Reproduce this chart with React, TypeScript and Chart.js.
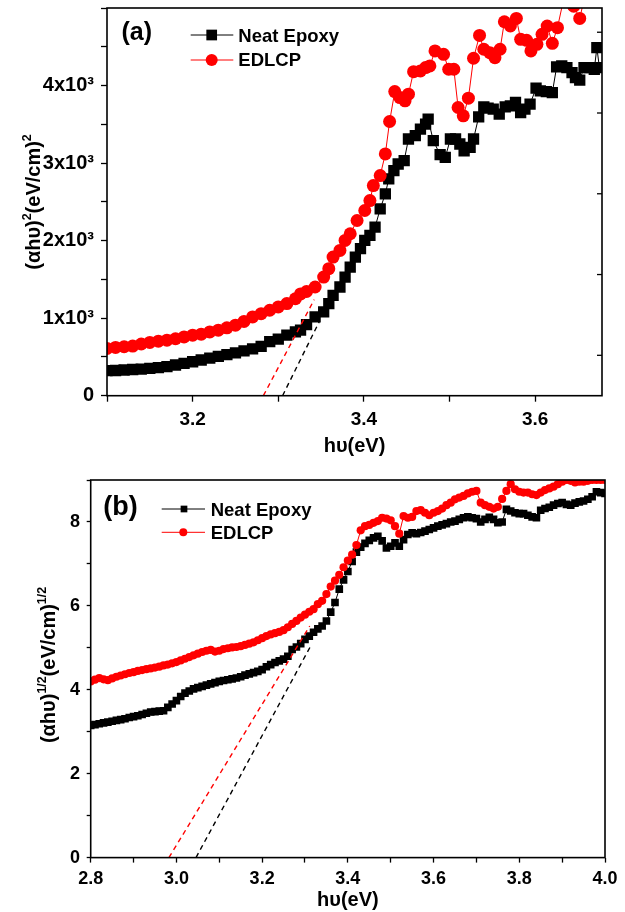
import React, { useEffect, useRef } from 'react';
import { Chart, registerables } from 'chart.js';
Chart.register(...registerables);

const FONT = '"Liberation Sans", Arial, Helvetica, sans-serif';

// ---------- Panel (a): (αhυ)^2 vs hυ ----------
const aNeatX = [3.10, 3.11, 3.12, 3.13, 3.14, 3.15, 3.16, 3.17, 3.18, 3.19, 3.20, 3.21, 3.22, 3.23, 3.24, 3.25, 3.26, 3.27, 3.28, 3.29, 3.30, 3.31, 3.32,
  3.326, 3.333, 3.343, 3.353, 3.359, 3.364, 3.372, 3.378, 3.384, 3.390,
  3.396, 3.401, 3.407, 3.413, 3.419, 3.425, 3.429, 3.435, 3.440, 3.447,
  3.452, 3.460, 3.466, 3.472, 3.475, 3.481, 3.489, 3.495, 3.501, 3.507,
  3.512, 3.517, 3.524, 3.528, 3.534, 3.540, 3.545, 3.551, 3.558, 3.565,
  3.571, 3.577, 3.583, 3.588, 3.594, 3.601, 3.606, 3.613, 3.620, 3.625,
  3.631, 3.637, 3.643, 3.647, 3.652, 3.657, 3.663, 3.669, 3.672, 3.675];
const aNeatY = [310, 312, 318, 324, 330, 338, 347, 360, 380, 400, 420, 442, 465, 487, 508, 530, 555, 580, 610, 670, 700, 750, 790,
  811, 880, 975, 1037, 1141, 1243, 1346, 1469, 1593, 1716,
  1820, 1922, 1984, 2086, 2313, 2499, 2684, 2786, 2869, 2910,
  3178, 3219, 3301, 3363, 3425, 3157, 2984, 2951, 3178, 3178,
  3116, 3033, 3074, 3178, 3453, 3577, 3560, 3548, 3486, 3577,
  3589, 3630, 3506, 3548, 3610, 3807, 3774, 3765, 3753, 4070,
  4083, 4062, 4000, 3938, 3906, 4062, 4062, 4042, 4309, 4062];

const aEdlcpX = [3.10, 3.11, 3.12, 3.13, 3.14, 3.15, 3.16, 3.17, 3.18, 3.19, 3.20, 3.21, 3.22, 3.23, 3.24, 3.25, 3.26, 3.27, 3.28, 3.29, 3.30, 3.31, 3.32,
  3.326, 3.333, 3.343, 3.353, 3.359, 3.364, 3.372, 3.378, 3.384, 3.392,
  3.401, 3.407, 3.411, 3.419, 3.425, 3.430, 3.436, 3.442, 3.448, 3.452,
  3.458, 3.466, 3.472, 3.477, 3.483, 3.493, 3.499, 3.505, 3.510, 3.516,
  3.522, 3.528, 3.535, 3.540, 3.547, 3.553, 3.559, 3.564, 3.571, 3.578,
  3.583, 3.590, 3.595, 3.602, 3.608, 3.614, 3.620, 3.626, 3.633, 3.639,
  3.645, 3.652, 3.658, 3.664, 3.671, 3.677];
const aEdlcpY = [585, 598, 606, 614, 640, 660, 675, 688, 705, 728, 749, 762, 790, 811, 840, 873, 920, 975, 1015, 1058, 1099, 1140, 1200,
  1260, 1290, 1346, 1469, 1573, 1716, 1799, 1922, 2005, 2169,
  2293, 2416, 2601, 2725, 2993, 3395, 3765, 3691, 3651, 3733,
  4012, 4021, 4062, 4083, 4268, 4227, 4042, 4042, 3568, 3465,
  3684, 4178, 4461, 4289, 4247, 4185, 4289, 4630, 4577, 4671,
  4412, 4400, 4268, 4350, 4474, 4577, 4363, 4556, 4900, 4950,
  4823, 4671, 4950, 5000, 5050, 5100];

const aNeatFitX = [3.305, 3.348];
const aNeatFitY = [0, 920];
const aEdlcpFitX = [3.2826, 3.342];
const aEdlcpFitY = [0, 1190];

// ---------- Panel (b): (αhυ)^1/2 vs hυ ----------
const bX = [2.80, 2.81, 2.82, 2.83, 2.84, 2.85, 2.86, 2.87, 2.88, 2.89,
  2.90, 2.91, 2.92, 2.93, 2.94, 2.95, 2.96, 2.97, 2.98, 2.99,
  3.00, 3.01, 3.02, 3.03, 3.04, 3.05, 3.06, 3.07, 3.08, 3.09,
  3.10, 3.11, 3.12, 3.13, 3.14, 3.15, 3.16, 3.17, 3.18, 3.19,
  3.20, 3.21, 3.22, 3.23, 3.24, 3.25, 3.26, 3.27, 3.28, 3.29,
  3.30, 3.31, 3.32, 3.33, 3.34, 3.35, 3.36, 3.37, 3.38, 3.39,
  3.40, 3.41, 3.42, 3.43, 3.44, 3.45, 3.46, 3.47, 3.48, 3.49,
  3.50, 3.51, 3.52, 3.53, 3.54, 3.55, 3.56, 3.57, 3.58, 3.59,
  3.60, 3.61, 3.62, 3.63, 3.64, 3.65, 3.66, 3.67, 3.68, 3.69,
  3.70, 3.71, 3.72, 3.73, 3.74, 3.75, 3.76, 3.77, 3.78, 3.79,
  3.80, 3.81, 3.82, 3.83, 3.84, 3.85, 3.86, 3.87, 3.88, 3.89,
  3.90, 3.91, 3.92, 3.93, 3.94, 3.95, 3.96, 3.97, 3.98, 3.99,
  4.00];
const bNeatY = [3.15, 3.17, 3.19, 3.21, 3.23, 3.25, 3.27, 3.29, 3.31, 3.34,
  3.36, 3.38, 3.41, 3.44, 3.47, 3.48, 3.49, 3.50, 3.58, 3.66,
  3.74, 3.84, 3.92, 3.97, 4.02, 4.05, 4.08, 4.11, 4.14, 4.17,
  4.20, 4.22, 4.24, 4.26, 4.28, 4.31, 4.35, 4.38, 4.41, 4.44,
  4.48, 4.55, 4.60, 4.65, 4.69, 4.73, 4.80, 4.96, 5.02, 5.10,
  5.20, 5.28, 5.37, 5.45, 5.52, 5.64, 5.85, 6.08, 6.40, 6.62,
  6.82, 7.06, 7.28, 7.40, 7.49, 7.56, 7.62, 7.66, 7.55, 7.38,
  7.42, 7.50, 7.42, 7.58, 7.70, 7.74, 7.72, 7.75, 7.78, 7.82,
  7.86, 7.90, 7.93, 7.96, 8.00, 8.02, 8.06, 8.10, 8.12, 8.10,
  8.08, 8.00, 8.06, 8.11, 8.06, 7.98, 8.00, 8.30, 8.26, 8.22,
  8.20, 8.20, 8.16, 8.12, 8.10, 8.28, 8.32, 8.35, 8.40, 8.44,
  8.46, 8.42, 8.40, 8.45, 8.48, 8.50, 8.54, 8.60, 8.72, 8.70,
  8.68];
const bEdlcpY = [4.20, 4.24, 4.28, 4.25, 4.23, 4.27, 4.31, 4.34, 4.37, 4.40,
  4.42, 4.45, 4.47, 4.49, 4.51, 4.53, 4.55, 4.58, 4.60, 4.63,
  4.66, 4.70, 4.74, 4.78, 4.82, 4.86, 4.90, 4.93, 4.95, 4.91,
  4.93, 4.97, 4.99, 5.01, 5.02, 5.04, 5.07, 5.10, 5.13, 5.18,
  5.23, 5.28, 5.32, 5.35, 5.38, 5.42, 5.49, 5.57, 5.64, 5.72,
  5.79, 5.86, 5.92, 6.04, 6.12, 6.28, 6.46, 6.60, 6.74, 6.92,
  7.08, 7.22, 7.45, 7.80, 7.90, 7.93, 7.98, 8.02, 8.10, 8.08,
  8.04, 7.90, 7.72, 8.14, 8.10, 8.12, 8.26, 8.28, 8.22, 8.16,
  8.22, 8.26, 8.32, 8.40, 8.46, 8.54, 8.58, 8.62, 8.68, 8.72,
  8.74, 8.46, 8.40, 8.36, 8.32, 8.36, 8.55, 8.74, 8.90, 8.78,
  8.72, 8.70, 8.70, 8.66, 8.64, 8.70, 8.76, 8.80, 8.84, 8.90,
  8.96, 9.00, 8.98, 8.94, 8.96, 8.96, 8.98, 9.00, 9.00, 9.00,
  9.00];

const bNeatFitX = [3.0457, 3.312];
const bNeatFitY = [0, 5.02];
const bEdlcpFitX = [2.9825, 3.311];
const bEdlcpFitY = [0, 5.52];

const SERIES_NAMES = ['Neat Epoxy', 'EDLCP'];
const A_Y_TICK_LABELS = ['0', '1x10³', '2x10³', '3x10³', '4x10³'];

// ---------- helpers ----------
const pts = (xs: number[], ys: number[]) => xs.map((x, i) => ({ x, y: ys[i] }));

type Part = { t: string; sup?: boolean };

function drawVerticalRich(ctx: CanvasRenderingContext2D, parts: Part[], cx: number, cy: number, size: number) {
  ctx.save();
  ctx.translate(cx, cy);
  ctx.rotate(-Math.PI / 2);
  const supSize = size * 0.62;
  let total = 0;
  const widths = parts.map((p) => {
    ctx.font = `bold ${p.sup ? supSize : size}px ${FONT}`;
    const w = ctx.measureText(p.t).width;
    total += w;
    return w;
  });
  let x = -total / 2;
  ctx.textAlign = 'left';
  ctx.textBaseline = 'alphabetic';
  ctx.fillStyle = '#000';
  const base = size * 0.36;
  parts.forEach((p, i) => {
    ctx.font = `bold ${p.sup ? supSize : size}px ${FONT}`;
    ctx.fillText(p.t, x, p.sup ? base - size * 0.46 : base);
    x += widths[i];
  });
  ctx.restore();
}

interface LegendItem {
  text: string; color: string; style: 'rect' | 'circle';
  x1: number; x2: number; y: number; mx: number; msize: number; tx: number; baseline: number;
}

interface PanelCfg {
  width: number; height: number;
  area: { left: number; right: number; top: number; bottom: number };
  x: { min: number; max: number; step: number; font: number; tl: number; pad: number; title: string; titleSize: number; titleBottom: number };
  y: { min: number; max: number; step: number; font: number; tl: number; pad: number; label: (v: number) => string };
  yTitle: { parts: Part[]; cx: number; cy: number; size: number };
  panelLabel: { text: string; x: number; baseline: number; size: number };
  legend: LegendItem[]; legendFont: number;
  rightTicks: number[];
  datasets: any[];
}

function buildChart(canvas: HTMLCanvasElement, cfg: PanelCfg) {
  const decor = {
    id: 'decor',
    afterDraw(chart: any) {
      const { ctx, chartArea: ca } = chart;
      ctx.save();
      ctx.strokeStyle = '#000';
      ctx.lineWidth = 1.6;
      ctx.strokeRect(ca.left, ca.top, ca.right - ca.left, ca.bottom - ca.top);
      const ys = chart.scales.y;
      ctx.lineWidth = 1.3;
      cfg.rightTicks.forEach((v) => {
        const py = ys.getPixelForValue(v);
        ctx.beginPath();
        ctx.moveTo(ca.right, py);
        ctx.lineTo(ca.right - 5, py);
        ctx.stroke();
      });
      ctx.fillStyle = '#000';
      ctx.textAlign = 'left';
      ctx.textBaseline = 'alphabetic';
      ctx.font = `bold ${cfg.panelLabel.size}px ${FONT}`;
      ctx.fillText(cfg.panelLabel.text, cfg.panelLabel.x, cfg.panelLabel.baseline);
      cfg.legend.forEach((it) => {
        ctx.strokeStyle = it.color;
        ctx.fillStyle = it.color;
        ctx.lineWidth = 1;
        ctx.beginPath();
        ctx.moveTo(it.x1, it.y);
        ctx.lineTo(it.x2, it.y);
        ctx.stroke();
        if (it.style === 'rect') {
          ctx.fillRect(it.mx - it.msize / 2, it.y - it.msize / 2, it.msize, it.msize);
        } else {
          ctx.beginPath();
          ctx.arc(it.mx, it.y, it.msize / 2, 0, Math.PI * 2);
          ctx.fill();
        }
        ctx.fillStyle = '#000';
        ctx.font = `bold ${cfg.legendFont}px ${FONT}`;
        ctx.fillText(it.text, it.tx, it.baseline);
      });
      drawVerticalRich(ctx, cfg.yTitle.parts, cfg.yTitle.cx, cfg.yTitle.cy, cfg.yTitle.size);
      ctx.restore();
    },
  };

  const zeroPad = (s: any) => { s.paddingTop = 0; s.paddingBottom = 0; s.paddingLeft = 0; s.paddingRight = 0; };

  return new Chart(canvas, {
    type: 'scatter',
    data: { datasets: cfg.datasets },
    options: {
      responsive: false,
      devicePixelRatio: 1,
      animation: false,
      events: [],
      layout: {
        padding: { left: 0, right: cfg.width - cfg.area.right, top: cfg.area.top, bottom: 0 },
      },
      plugins: { legend: { display: false }, tooltip: { enabled: false } },
      scales: {
        x: {
          type: 'linear',
          min: cfg.x.min,
          max: cfg.x.max,
          afterFit: (s: any) => { s.height = cfg.height - cfg.area.bottom; zeroPad(s); },
          border: { display: false },
          grid: { display: true, drawOnChartArea: false, drawTicks: true, tickLength: cfg.x.tl, tickColor: '#000', tickWidth: 1.3 },
          ticks: {
            stepSize: cfg.x.step,
            includeBounds: false,
            autoSkip: false,
            maxRotation: 0,
            padding: cfg.x.pad,
            color: '#000',
            font: { family: FONT, size: cfg.x.font, weight: 'bold' },
            callback: (v: any) => (Math.round(Number(v) * 10) % 2 === 0 ? Number(v).toFixed(1) : ''),
          },
          title: {
            display: true,
            text: cfg.x.title,
            color: '#000',
            font: { family: FONT, size: cfg.x.titleSize, weight: 'bold', lineHeight: 1 },
            padding: { top: 0, bottom: cfg.x.titleBottom },
          },
        },
        y: {
          type: 'linear',
          min: cfg.y.min,
          max: cfg.y.max,
          afterFit: (s: any) => { s.width = cfg.area.left; zeroPad(s); },
          border: { display: false },
          grid: { display: true, drawOnChartArea: false, drawTicks: true, tickLength: cfg.y.tl, tickColor: '#000', tickWidth: 1.3 },
          ticks: {
            stepSize: cfg.y.step,
            includeBounds: false,
            autoSkip: false,
            padding: cfg.y.pad,
            color: '#000',
            font: { family: FONT, size: cfg.y.font, weight: 'bold' },
            callback: (v: any) => cfg.y.label(Number(v)),
          },
        },
      },
    } as any,
    plugins: [decor],
  });
}

function seriesDatasets(neatX: number[], neatY: number[], edX: number[], edY: number[],
  nfX: number[], nfY: number[], efX: number[], efY: number[], sqR: number, ciR: number) {
  return [
    { label: 'fit-neat', data: pts(nfX, nfY), showLine: true, borderColor: '#000', borderWidth: 1.4, borderDash: [5, 4], pointRadius: 0, fill: false },
    { label: 'fit-edlcp', data: pts(efX, efY), showLine: true, borderColor: '#ff0000', borderWidth: 1.4, borderDash: [5, 4], pointRadius: 0, fill: false },
    { label: SERIES_NAMES[1], data: pts(edX, edY), showLine: true, borderColor: '#ff0000', borderWidth: 1, pointStyle: 'circle', pointRadius: ciR, pointBackgroundColor: '#ff0000', pointBorderColor: '#ff0000', pointBorderWidth: 0 },
    { label: SERIES_NAMES[0], data: pts(neatX, neatY), showLine: true, borderColor: '#000', borderWidth: 1, pointStyle: 'rect', pointRadius: sqR, pointBackgroundColor: '#000', pointBorderColor: '#000', pointBorderWidth: 0 },
  ];
}

const cfgA: PanelCfg = {
  width: 625, height: 460,
  area: { left: 107, right: 602, top: 7.3, bottom: 395.7 },
  x: { min: 3.1, max: 3.678, step: 0.1, font: 19, tl: 6, pad: 7, title: 'hυ(eV)', titleSize: 20, titleBottom: 4 },
  y: {
    min: 0, max: 4800, step: 500, font: 20, tl: 6, pad: 7,
    label: (v) => {
      const k = Math.round(v / 500);
      return k % 2 === 0 ? (A_Y_TICK_LABELS[k / 2] ?? '') : '';
    },
  },
  yTitle: { parts: [{ t: '(αhυ)' }, { t: '2', sup: true }, { t: '(eV/cm)' }, { t: '2', sup: true }], cx: 33, cy: 202, size: 20 },
  panelLabel: { text: '(a)', x: 121.5, baseline: 40, size: 25 },
  legend: [
    { text: SERIES_NAMES[0], color: '#000', style: 'rect', x1: 190.7, x2: 233.3, y: 35, mx: 211.7, msize: 10.7, tx: 238.3, baseline: 41.7 },
    { text: SERIES_NAMES[1], color: '#ff0000', style: 'circle', x1: 190.7, x2: 233.3, y: 60, mx: 211.7, msize: 12, tx: 238.3, baseline: 66 },
  ],
  legendFont: 18.5,
  rightTicks: [500, 1500, 2500, 3500, 4500],
  datasets: seriesDatasets(aNeatX, aNeatY, aEdlcpX, aEdlcpY, aNeatFitX, aNeatFitY, aEdlcpFitX, aEdlcpFitY, 8, 6.5),
};

const cfgB: PanelCfg = {
  width: 625, height: 452,
  area: { left: 90.7, right: 605, top: 20, bottom: 397.6 },
  x: { min: 2.8, max: 4.0, step: 0.1, font: 18, tl: 5, pad: 5.4, title: 'hυ(eV)', titleSize: 20, titleBottom: 1.2 },
  y: { min: 0, max: 9, step: 1, font: 18, tl: 4, pad: 6.7, label: (v) => (Math.round(v) % 2 === 0 ? String(Math.round(v)) : '') },
  yTitle: { parts: [{ t: '(αhυ)' }, { t: '1/2', sup: true }, { t: '(eV/cm)' }, { t: '1/2', sup: true }], cx: 48, cy: 205, size: 20 },
  panelLabel: { text: '(b)', x: 103.3, baseline: 54.8, size: 27 },
  legend: [
    { text: SERIES_NAMES[0], color: '#000', style: 'rect', x1: 161.7, x2: 205, y: 49, mx: 184, msize: 6.7, tx: 210.7, baseline: 55.7 },
    { text: SERIES_NAMES[1], color: '#ff0000', style: 'circle', x1: 161.7, x2: 205, y: 72.3, mx: 183.3, msize: 8, tx: 210.7, baseline: 79.3 },
  ],
  legendFont: 18.5,
  rightTicks: [],
  datasets: seriesDatasets(bX, bNeatY, bX, bEdlcpY, bNeatFitX, bNeatFitY, bEdlcpFitX, bEdlcpFitY, 5.4, 4.1),
};

function Panel({ cfg, top }: { cfg: PanelCfg; top: number }) {
  const ref = useRef<HTMLCanvasElement | null>(null);
  useEffect(() => {
    if (!ref.current) return;
    const chart = buildChart(ref.current, cfg);
    return () => chart.destroy();
  }, [cfg]);
  return (
    <div style={{ position: 'absolute', left: 0, top, width: cfg.width, height: cfg.height }}>
      <canvas ref={ref} width={cfg.width} height={cfg.height} style={{ width: cfg.width, height: cfg.height, display: 'block' }} />
    </div>
  );
}

export default function App() {
  return (
    <div style={{ position: 'absolute', left: 0, top: 0, width: 625, height: 912, background: '#fff' }}>
      <Panel cfg={cfgA} top={0} />
      <Panel cfg={cfgB} top={460} />
    </div>
  );
}
